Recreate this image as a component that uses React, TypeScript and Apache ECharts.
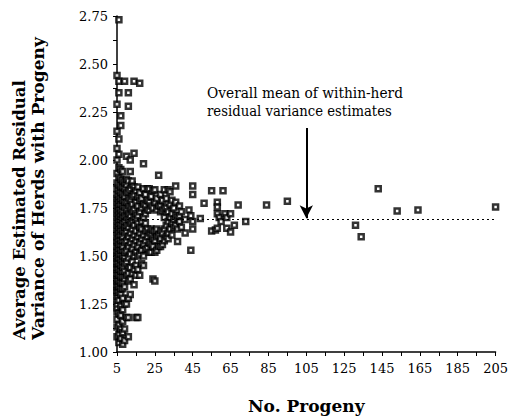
import React, { useEffect, useRef } from "react";
import * as echarts from "echarts";

// ---- data ----
const progenyOffset = 5; // axis starts at 5 progeny
const xTickValues = [5, 25, 45, 65, 85, 105, 125, 145, 165, 185, 205];
const yTickValues = [1.0, 1.25, 1.5, 1.75, 2.0, 2.25, 2.5, 2.75];
const meanResidualVariance = 1.69;
const arrowProgeny = 105;
const arrowFrom = 2.167;
const arrowTo = 1.697;
const annotationLines = ["Overall mean of within-herd", "residual variance estimates"];
const yTitleLines = ["Average Estimated Residual", "Variance of Herds with Progeny"];
const xTitle = "No. Progeny";

// herds with few progeny: [progeny, variances observed]
const columnsLow: [number, number[]][] = [
  [5, [1.08, 1.13, 1.17, 1.21, 1.23, 1.25, 1.27, 1.29, 1.31, 1.32, 1.34, 1.35, 1.37, 1.38, 1.4, 1.41, 1.43, 1.44, 1.46, 1.47, 1.49, 1.5, 1.52, 1.53, 1.55, 1.57, 1.58, 1.6, 1.62, 1.64, 1.66, 1.68, 1.7, 1.72, 1.74, 1.76, 1.78, 1.8, 1.82, 1.85, 1.88, 1.93, 2.0, 2.06, 2.15, 2.29, 2.44]],
  [6, [1.05, 1.09, 1.14, 1.2, 1.27, 1.31, 1.34, 1.37, 1.4, 1.43, 1.46, 1.49, 1.51, 1.54, 1.56, 1.59, 1.61, 1.63, 1.65, 1.67, 1.69, 1.71, 1.73, 1.75, 1.77, 1.79, 1.81, 1.84, 1.87, 1.91, 1.96, 2.03, 2.11, 2.35, 2.41, 2.73]],
  [7, [1.07, 1.12, 1.19, 1.24, 1.3, 1.33, 1.36, 1.39, 1.42, 1.45, 1.48, 1.51, 1.53, 1.56, 1.58, 1.61, 1.64, 1.66, 1.69, 1.72, 1.74, 1.77, 1.8, 1.83, 1.86, 1.9, 1.95, 2.18, 2.23]],
  [8, [1.04, 1.1, 1.16, 1.22, 1.28, 1.33, 1.36, 1.39, 1.42, 1.44, 1.47, 1.5, 1.53, 1.55, 1.58, 1.6, 1.63, 1.67, 1.7, 1.73, 1.76, 1.79, 1.82, 1.86, 1.89, 1.94]],
  [9, [1.06, 1.12, 1.25, 1.34, 1.38, 1.42, 1.46, 1.49, 1.52, 1.57, 1.62, 1.65, 1.68, 1.71, 1.75, 1.78, 1.81, 1.85, 1.88, 2.41]],
  [10, [1.18, 1.25, 1.4, 1.47, 1.53, 1.58, 1.63, 1.66, 1.7, 1.74, 1.78, 1.83, 1.87, 1.9, 2.02]],
  [11, [1.08, 1.18, 1.28, 1.37, 1.41, 1.49, 1.55, 1.6, 1.65, 1.69, 1.72, 1.76, 1.8, 1.84, 1.89, 2.28, 2.35]],
  [12, [1.3, 1.38, 1.44, 1.51, 1.57, 1.62, 1.67, 1.71, 1.75, 1.79, 1.85, 1.94, 2.0]],
];

const columnsMid: [number, number[]][] = [
  [13, [1.41, 1.47, 1.54, 1.59, 1.64, 1.68, 1.73, 1.77, 1.81, 1.87, 1.89]],
  [14, [1.35, 1.43, 1.5, 1.56, 1.61, 1.66, 1.7, 1.74, 1.82, 1.86, 2.035, 2.41]],
  [15, [1.18, 1.4, 1.45, 1.52, 1.58, 1.63, 1.69, 1.72, 1.78, 1.84]],
  [16, [1.18, 1.43, 1.5, 1.55, 1.6, 1.67, 1.71, 1.76, 1.81, 1.86]],
  [17, [1.4, 1.51, 1.57, 1.62, 1.65, 1.73, 1.79, 1.83, 2.4]],
  [18, [1.46, 1.53, 1.59, 1.64, 1.68, 1.75, 1.8]],
  [19, [1.45, 1.5, 1.56, 1.61, 1.7, 1.77, 1.85, 1.98]],
  [20, [1.535, 1.58, 1.63, 1.67, 1.72, 1.76, 1.82]],
  [21, [1.54, 1.6, 1.64, 1.74, 1.79, 1.85]],
  [22, [1.52, 1.57, 1.62, 1.74, 1.78, 1.85]],
  [23, [1.52, 1.56, 1.61, 1.64, 1.76, 1.81]],
  [24, [1.38, 1.55, 1.59, 1.63, 1.75, 1.84]],
];

const columnsHigh: [number, number[]][] = [
  [25, [1.37, 1.52, 1.58, 1.63, 1.78, 1.845]],
  [26, [1.53, 1.6, 1.64, 1.74, 1.8]],
  [27, [1.55, 1.61, 1.76, 1.92]],
  [28, [1.55, 1.59, 1.63, 1.73, 1.76, 1.82]],
  [29, [1.56, 1.62, 1.74, 1.79]],
  [30, [1.58, 1.64, 1.7, 1.75, 1.845]],
  [31, [1.6, 1.66, 1.75, 1.8]],
  [32, [1.59, 1.62, 1.68, 1.73, 1.845]],
  [33, [1.64, 1.7, 1.77, 1.835]],
  [34, [1.61, 1.67, 1.72, 1.79]],
  [35, [1.65, 1.69, 1.75]],
  [36, [1.66, 1.71, 1.78, 1.865]],
  [37, [1.575, 1.64, 1.7]],
  [38, [1.68, 1.71, 1.76]],
  [39, [1.65, 1.73]],
];

const sparseHerds: [number, number][] = [
  [41, 1.69], [41, 1.62], [43, 1.74], [44, 1.71], [44, 1.53], [45, 1.865], [45, 1.82], [45, 1.68], [45, 1.64],
  [49, 1.695], [51, 1.775], [55, 1.84], [55, 1.63], [57, 1.635], [58, 1.78], [58, 1.755], [58, 1.72], [58, 1.645],
  [59, 1.7], [60, 1.68], [61, 1.84], [62, 1.72], [63, 1.7], [63, 1.645], [65, 1.72], [65, 1.625], [67, 1.66],
  [69, 1.765], [73, 1.68], [84, 1.765], [95, 1.785], [131, 1.66], [134, 1.6], [143, 1.85], [153, 1.735],
  [164, 1.74], [205, 1.755],
];

const SERIF = '"DejaVu Serif", serif';

function buildPoints(): number[][] {
  const pts: number[][] = [];
  [...columnsLow, ...columnsMid, ...columnsHigh].forEach(([n, vals]) => {
    vals.forEach((v) => pts.push([n - progenyOffset, v]));
  });
  sparseHerds.forEach(([n, v]) => pts.push([n - progenyOffset, v]));
  return pts;
}

// horizontal stretch so a text line spans a given length (the original is letter-spaced)
function stretchFor(text: string, font: string, target: number): number {
  try {
    const ctx = document.createElement("canvas").getContext("2d");
    if (!ctx) return 1;
    ctx.font = font;
    const w = ctx.measureText(text).width;
    if (!w) return 1;
    return Math.max(0.8, Math.min(1.3, target / w));
  } catch {
    return 1;
  }
}

export default function App() {
  const ref = useRef<HTMLDivElement>(null);
  useEffect(() => {
    if (!ref.current) return;
    const chart = echarts.init(ref.current, undefined, { renderer: "svg" });
    const xMax = xTickValues[xTickValues.length - 1] - progenyOffset;
    const titleFont = `bold 17px ${SERIF}`;
    const noteFont = `14px ${SERIF}`;
    chart.setOption({
      animation: false,
      backgroundColor: "#fff",
      grid: { left: 117, right: 13, top: 16, bottom: 67, containLabel: false },
      xAxis: {
        type: "value",
        min: 0,
        max: xMax,
        interval: 20,
        name: xTitle,
        nameLocation: "middle",
        nameGap: 45,
        nameTextStyle: { fontFamily: SERIF, fontWeight: "bold", fontSize: 17, color: "#000" },
        axisLine: { show: true, onZero: false, lineStyle: { color: "#000", width: 1.5 } },
        axisTick: { show: true, length: 4, lineStyle: { color: "#000", width: 1 } },
        minorTick: { show: true, splitNumber: 2, length: 4, lineStyle: { color: "#000", width: 1 } },
        splitLine: { show: false },
        axisLabel: {
          margin: 10,
          fontFamily: SERIF,
          fontSize: 13,
          color: "#000",
          formatter: (v: number) => String(v + progenyOffset),
        },
      },
      yAxis: {
        type: "value",
        min: yTickValues[0],
        max: yTickValues[yTickValues.length - 1],
        interval: 0.25,
        axisLine: { show: true, onZero: false, lineStyle: { color: "#000", width: 1.5 } },
        axisTick: { show: true, length: 4, lineStyle: { color: "#000", width: 1 } },
        minorTick: { show: true, splitNumber: 2, length: 4, lineStyle: { color: "#000", width: 1 } },
        splitLine: { show: false },
        axisLabel: {
          margin: 9,
          fontFamily: SERIF,
          fontSize: 13,
          color: "#000",
          formatter: (v: number) => v.toFixed(2),
        },
      },
      graphic: [
        {
          type: "text",
          x: 19,
          y: 340,
          rotation: Math.PI / 2,
          scaleX: stretchFor(yTitleLines[0], titleFont, 260),
          style: { text: yTitleLines[0], font: titleFont, fill: "#000", align: "left", verticalAlign: "middle" },
        },
        {
          type: "text",
          x: 38,
          y: 340,
          rotation: Math.PI / 2,
          scaleX: stretchFor(yTitleLines[1], titleFont, 303),
          style: { text: yTitleLines[1], font: titleFont, fill: "#000", align: "left", verticalAlign: "middle" },
        },
        {
          type: "text",
          x: 207,
          y: 93,
          scaleX: stretchFor(annotationLines[0], noteFont, 196),
          style: { text: annotationLines[0], font: noteFont, fill: "#000", align: "left", verticalAlign: "middle" },
        },
        {
          type: "text",
          x: 207,
          y: 111,
          scaleX: stretchFor(annotationLines[1], noteFont, 185),
          style: { text: annotationLines[1], font: noteFont, fill: "#000", align: "left", verticalAlign: "middle" },
        },
      ],
      series: [
        {
          type: "scatter",
          data: buildPoints(),
          symbol: "rect",
          symbolSize: 5,
          itemStyle: { color: "#fff", borderColor: "#000", borderWidth: 2.5 },
          markLine: {
            silent: true,
            animation: false,
            symbol: ["none", "none"],
            label: { show: false },
            data: [
              {
                yAxis: meanResidualVariance,
                lineStyle: { type: [2, 3], color: "#000", width: 1.2 },
              },
              [
                { coord: [arrowProgeny - progenyOffset, arrowFrom], symbol: "none" },
                { coord: [arrowProgeny - progenyOffset, arrowTo], symbol: "arrow", symbolSize: [10, 13] },
              ],
            ],
            lineStyle: { color: "#000", width: 2, type: "solid" },
          },
        },
      ],
    });
    return () => chart.dispose();
  }, []);
  return (
    <div
      ref={ref}
      style={{ position: "absolute", left: 0, top: 0, width: 511, height: 419, background: "#fff" }}
    />
  );
}
